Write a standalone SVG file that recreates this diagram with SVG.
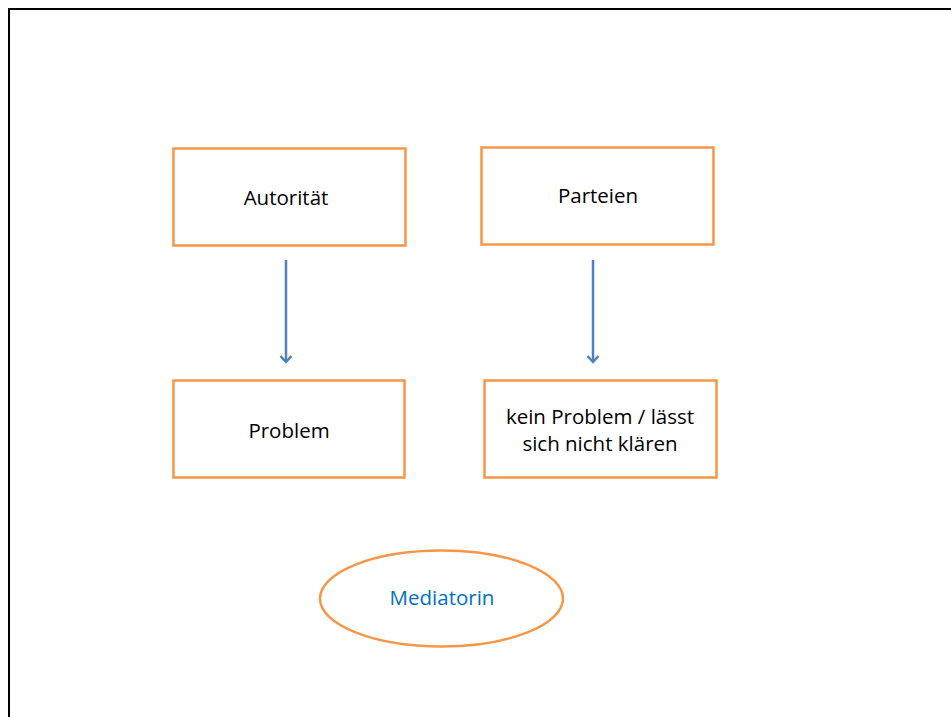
<svg xmlns="http://www.w3.org/2000/svg" width="951" height="717" viewBox="0 0 951 717">
<style>
.box{fill:#fff;stroke:#F79646;stroke-width:2.5}
.t{font-family:"Open Sans","Liberation Sans",sans-serif;font-size:20.5px;fill:#000;text-anchor:middle}
.conn{stroke:#4F81BD;stroke-width:2.5;fill:none}
</style>
<defs>
<marker id="ah" markerWidth="14" markerHeight="14" refX="10" refY="7" orient="auto" markerUnits="userSpaceOnUse">
<path d="M4,1.5 L10,7 L4,12.5" fill="none" stroke="#4F81BD" stroke-width="2.5"/>
</marker>
</defs>
<rect width="951" height="717" fill="#fff"/>
<path d="M9,717 V9 H951" fill="none" stroke="#000" stroke-width="2"/>
<g id="autoritaet"><rect class="box" x="173.5" y="148.5" width="232" height="97"/><text class="t" x="286" y="205">Autorität</text></g>
<g id="parteien"><rect class="box" x="481.5" y="147.5" width="232" height="97"/><text class="t" x="598" y="203">Parteien</text></g>
<g id="problem"><rect class="box" x="173.5" y="380.5" width="231" height="97"/><text class="t" x="289" y="438">Problem</text></g>
<g id="keinproblem"><rect class="box" x="484.5" y="380.5" width="232" height="97"/><text class="t" x="600" y="424">kein Problem / lässt</text><text class="t" x="600" y="451">sich nicht klären</text></g>
<g id="mediatorin"><ellipse class="box" cx="441.5" cy="598.5" rx="121.5" ry="48"/><text class="t" x="442" y="605" style="fill:#0070C0">Mediatorin</text></g>
<g id="connectors">
<line class="conn" x1="286" y1="260" x2="286" y2="362" marker-end="url(#ah)"/>
<line class="conn" x1="593" y1="260" x2="593" y2="362" marker-end="url(#ah)"/>
</g>
</svg>
